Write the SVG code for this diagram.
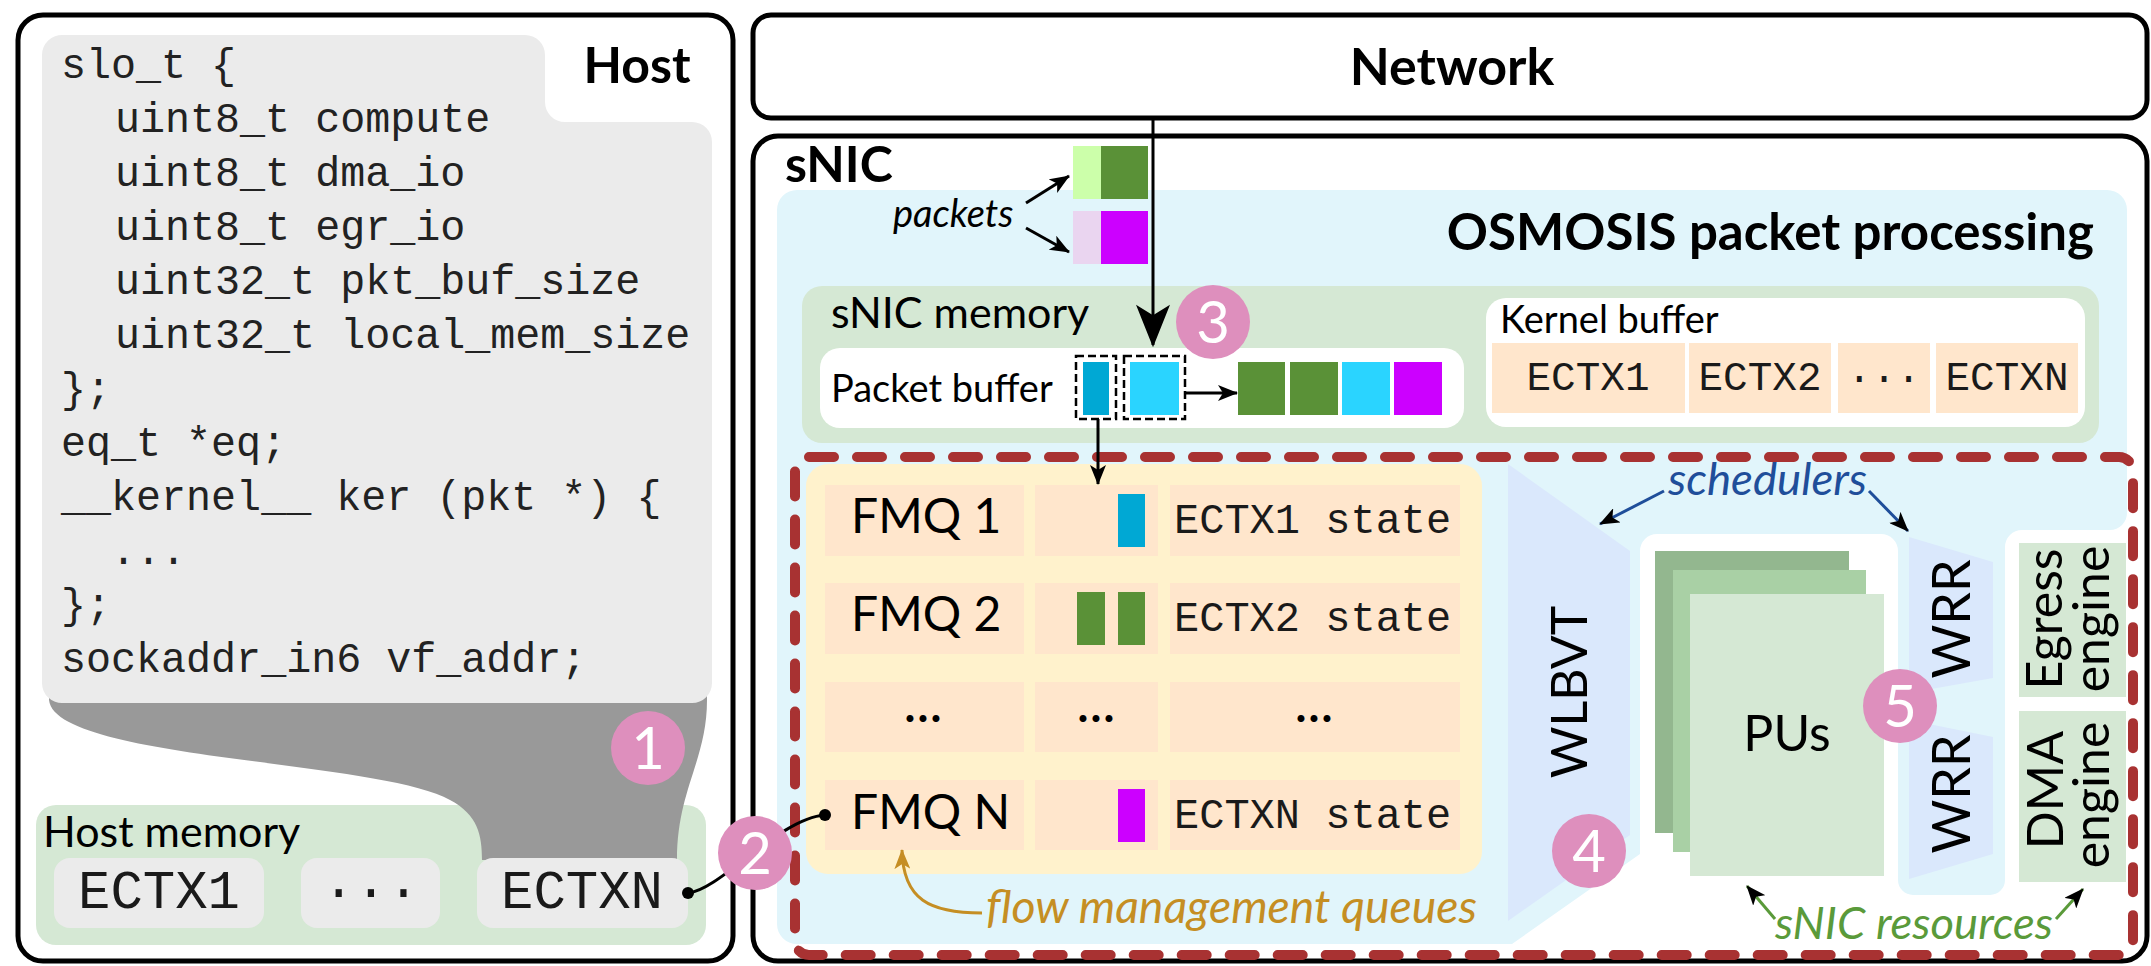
<svg xmlns="http://www.w3.org/2000/svg" width="2151" height="966" viewBox="0 0 2151 966">
<defs>
<style>
.box{fill:none;stroke:#000;stroke-width:5}
.sans{font-family:Lato,"Liberation Sans",sans-serif}
.mono{font-family:"Liberation Mono",monospace;fill:#1a1a1a}
.code{font-family:"Liberation Mono",monospace;font-size:41.7px;fill:#222}
.bold{font-weight:bold}
.num{font-family:Lato,"Liberation Sans",sans-serif;font-size:58px;fill:#fff;text-anchor:middle}
.step{fill:#de8fbd}
.cell{fill:#ffe6cc}
.green{fill:#d5e8d4}
.lav{fill:#dae8fc}
.ln{fill:none;stroke:#000;stroke-width:3}
.it{font-family:Lato,"Liberation Sans",sans-serif;font-style:italic}
</style>
<marker id="ah" viewBox="0 0 20 16" refX="19" refY="8" markerWidth="20" markerHeight="16" markerUnits="userSpaceOnUse" orient="auto"><path d="M0,0 L20,8 L0,16 L5,8 Z" fill="#000"/></marker>
<marker id="ahBig" viewBox="0 0 20 16" refX="19" refY="8" markerWidth="44" markerHeight="34" markerUnits="userSpaceOnUse" orient="auto"><path d="M0,0 L20,8 L0,16 L5,8 Z" fill="#000"/></marker>
<marker id="ahGold" viewBox="0 0 20 16" refX="19" refY="8" markerWidth="20" markerHeight="16" markerUnits="userSpaceOnUse" orient="auto"><path d="M0,0 L20,8 L0,16 L5,8 Z" fill="#c58e23"/></marker>
</defs>

<!-- HOST -->
<g id="host">
<rect class="box" x="18" y="15" width="715" height="946" rx="25"/>
</g>
<g id="host-memory">
<rect x="36" y="805" width="670" height="140" rx="20" class="green"/>
<text x="43" y="847" class="sans" font-size="43">Host memory</text>
</g>
<g id="funnel">
<path d="M49 695 L49 700 C55 760 380 760 450 800 C478 815 482 835 482 860 L677 860 C677 790 707 760 707 700 L707 695 Z" fill="#999"/>
</g>
<g id="code">
<path d="M63 35 H525 A20 20 0 0 1 545 55 V102 A20 20 0 0 0 565 122 H692 A20 20 0 0 1 712 142 V683 A20 20 0 0 1 692 703 H63 A20 20 0 0 1 42 683 V55 A20 20 0 0 1 63 35 Z" fill="#ebebeb"/>
<text x="637" y="83" class="sans bold" font-size="50" text-anchor="middle">Host</text>
<text class="code">
<tspan x="61" y="78">slo_t {</tspan>
<tspan x="115" y="132">uint8_t compute</tspan>
<tspan x="115" y="186">uint8_t dma_io</tspan>
<tspan x="115" y="240">uint8_t egr_io</tspan>
<tspan x="115" y="294">uint32_t pkt_buf_size</tspan>
<tspan x="115" y="348">uint32_t local_mem_size</tspan>
<tspan x="61" y="402">};</tspan>
<tspan x="61" y="456">eq_t *eq;</tspan>
<tspan x="61" y="510">__kernel__ ker (pkt *) {</tspan>
<tspan x="111" y="564">...</tspan>
<tspan x="61" y="618">};</tspan>
<tspan x="61" y="672">sockaddr_in6 vf_addr;</tspan>
</text>
</g>
<g id="host-ectx">
<rect x="54" y="858" width="210" height="70" rx="16" fill="#ebebeb"/>
<rect x="301" y="858" width="139" height="70" rx="16" fill="#ebebeb"/>
<rect x="477" y="858" width="211" height="70" rx="16" fill="#ebebeb"/>
<text x="159" y="908" class="mono" font-size="54" text-anchor="middle">ECTX1</text>
<text x="371" y="908" class="mono" font-size="54" text-anchor="middle">···</text>
<text x="582" y="908" class="mono" font-size="54" text-anchor="middle">ECTXN</text>
</g>

<!-- NETWORK -->
<g id="network">
<rect class="box" x="753" y="15" width="1394" height="103" rx="18"/>
<text x="1452" y="85" class="sans bold" font-size="52" text-anchor="middle">Network</text>
</g>

<!-- SNIC -->
<g id="snic">
<rect class="box" x="753" y="136" width="1394" height="825" rx="25"/>
<text x="785" y="182" class="sans bold" font-size="50">sNIC</text>
</g>
<g id="osmosis">
<path d="M797 190 H2107 A20 20 0 0 1 2127 210 V513 A17 17 0 0 1 2110 530 H2022 A17 17 0 0 0 2005 547 V880 A15 15 0 0 1 1990 895 H1913 A15 15 0 0 1 1898 880 V551 A17 17 0 0 0 1881 534 H1657 A17 17 0 0 0 1640 551 V854 L1512 944 H797 A20 20 0 0 1 777 924 V210 A20 20 0 0 1 797 190 Z" fill="#e1f5fb"/>
<text x="2094" y="250" class="sans bold" font-size="51" text-anchor="end">OSMOSIS packet processing</text>
</g>
<g id="packets">
<rect x="1073" y="146" width="28" height="53" fill="#ccffaa"/>
<rect x="1101" y="146" width="47" height="53" fill="#5a9137"/>
<rect x="1073" y="211" width="28" height="53" fill="#ead5f0"/>
<rect x="1101" y="211" width="47" height="53" fill="#cc00ff"/>
<text x="893" y="227" class="it" font-size="38">packets</text>
</g>
<g id="snic-memory">
<rect x="802" y="286" width="1297" height="157" rx="20" class="green"/>
<text x="831" y="328" class="sans" font-size="43">sNIC memory</text>
</g>
<g id="packet-buffer">
<rect x="820" y="348" width="644" height="80" rx="20" fill="#fff"/>
<text x="831" y="402" class="sans" font-size="38">Packet buffer</text>
<rect x="1076" y="356" width="40" height="63" fill="none" stroke="#000" stroke-width="2.5" stroke-dasharray="8 4"/>
<rect x="1083" y="362" width="26" height="53" fill="#00a8d4"/>
<rect x="1124" y="356" width="61" height="63" fill="none" stroke="#000" stroke-width="2.5" stroke-dasharray="8 4"/>
<rect x="1130" y="362" width="49" height="53" fill="#2ad4ff"/>
<rect x="1238" y="362" width="47" height="53" fill="#5a9137"/>
<rect x="1290" y="362" width="48" height="53" fill="#5a9137"/>
<rect x="1342" y="362" width="48" height="53" fill="#2ad4ff"/>
<rect x="1394" y="362" width="48" height="53" fill="#cc00ff"/>
</g>
<g id="kernel-buffer">
<rect x="1486" y="298" width="599" height="129" rx="20" fill="#fff"/>
<text x="1500" y="333" class="sans" font-size="38">Kernel buffer</text>
<rect x="1492" y="343" width="193" height="70" class="cell"/>
<rect x="1689" y="343" width="142" height="70" class="cell"/>
<rect x="1838" y="343" width="92" height="70" class="cell"/>
<rect x="1936" y="343" width="142" height="70" class="cell"/>
<text x="1588" y="390" class="mono" font-size="41" text-anchor="middle">ECTX1</text>
<text x="1760" y="390" class="mono" font-size="41" text-anchor="middle">ECTX2</text>
<text x="1884" y="390" class="mono" font-size="41" text-anchor="middle">···</text>
<text x="2007" y="390" class="mono" font-size="41" text-anchor="middle">ECTXN</text>
</g>

<g id="fmq">
<rect x="806" y="464" width="676" height="410" rx="22" fill="#fff2cc"/>
<rect x="825" y="485" width="199" height="71" class="cell"/>
<rect x="1035" y="485" width="123" height="71" class="cell"/>
<rect x="1170" y="485" width="290" height="71" class="cell"/>
<rect x="825" y="583" width="199" height="71" class="cell"/>
<rect x="1035" y="583" width="123" height="71" class="cell"/>
<rect x="1170" y="583" width="290" height="71" class="cell"/>
<rect x="825" y="682" width="199" height="70" class="cell"/>
<rect x="1035" y="682" width="123" height="70" class="cell"/>
<rect x="1170" y="682" width="290" height="70" class="cell"/>
<rect x="825" y="780" width="199" height="70" class="cell"/>
<rect x="1035" y="780" width="123" height="70" class="cell"/>
<rect x="1170" y="780" width="290" height="70" class="cell"/>
<text x="851" y="533" class="sans" font-size="48">FMQ 1</text>
<text x="851" y="631" class="sans" font-size="48">FMQ 2</text>
<text x="924" y="722" class="sans bold" font-size="46" text-anchor="middle" letter-spacing="2">...</text>
<text x="1097" y="722" class="sans bold" font-size="46" text-anchor="middle" letter-spacing="2">...</text>
<text x="1315" y="722" class="sans bold" font-size="46" text-anchor="middle" letter-spacing="2">...</text>
<text x="851" y="829" class="sans" font-size="48">FMQ N</text>
<rect x="1118" y="494" width="27" height="53" fill="#00a8d4"/>
<rect x="1077" y="592" width="28" height="53" fill="#5a9137"/>
<rect x="1118" y="592" width="27" height="53" fill="#5a9137"/>
<rect x="1118" y="789" width="27" height="53" fill="#cc00ff"/>
<text x="1174" y="533" class="mono" font-size="42">ECTX1 state</text>
<text x="1174" y="631" class="mono" font-size="42">ECTX2 state</text>
<text x="1174" y="828" class="mono" font-size="42">ECTXN state</text>
<text x="986" y="923" class="it" font-size="46" textLength="491" lengthAdjust="spacingAndGlyphs" fill="#c58e23">flow management queues</text>
</g>

<g id="wlbvt">
<polygon points="1508,464 1630,551 1630,835 1508,921" class="lav"/>
<text transform="translate(1587,692) rotate(-90)" class="sans" font-size="50" text-anchor="middle">WLBVT</text>
</g>
<g id="pus">
<rect x="1655" y="551" width="194" height="282" fill="#93b78f"/>
<rect x="1673" y="570" width="193" height="282" fill="#a9d0a5"/>
<rect x="1690" y="594" width="194" height="282" class="green"/>
<text x="1787" y="751" class="sans" font-size="50" text-anchor="middle">PUs</text>
</g>
<g id="wrr-upper">
<polygon points="1909,537 1993,562 1993,678 1909,693" class="lav"/>
<text transform="translate(1970,619) rotate(-90)" class="sans" font-size="52" text-anchor="middle">WRR</text>
</g>
<g id="wrr-lower">
<polygon points="1909,720 1993,737 1993,854 1909,879" class="lav"/>
<text transform="translate(1970,794) rotate(-90)" class="sans" font-size="52" text-anchor="middle">WRR</text>
</g>
<g id="egress-engine">
<rect x="2019" y="543" width="107" height="154" class="green"/>
<text transform="translate(2062,619) rotate(-90)" class="sans" font-size="50" text-anchor="middle">Egress</text>
<text transform="translate(2109,619) rotate(-90)" class="sans" font-size="50" text-anchor="middle">engine</text>
</g>
<g id="dma-engine">
<rect x="2019" y="711" width="107" height="171" class="green"/>
<text transform="translate(2063,790) rotate(-90)" class="sans" font-size="50" text-anchor="middle">DMA</text>
<text transform="translate(2109,795) rotate(-90)" class="sans" font-size="50" text-anchor="middle">engine</text>
</g>
<g id="labels">
<text x="1668" y="495" class="it" font-size="45" textLength="199" lengthAdjust="spacingAndGlyphs" fill="#1f4e9a">schedulers</text>
<text x="1775" y="939" class="it" font-size="44" textLength="278" lengthAdjust="spacingAndGlyphs" fill="#5a9a3a">sNIC resources</text>
</g>

<g id="slo-boundary">
<rect x="795" y="457" width="1338" height="498" rx="14" fill="none" stroke="#a83232" stroke-width="10" stroke-dasharray="25 23" stroke-linecap="round"/>
</g>

<g id="connectors">
<line x1="1153" y1="120" x2="1153" y2="345" class="ln" marker-end="url(#ahBig)"/>
<line x1="1026" y1="203" x2="1069" y2="176" class="ln" marker-end="url(#ah)"/>
<line x1="1026" y1="228" x2="1069" y2="252" class="ln" marker-end="url(#ah)"/>
<line x1="1185" y1="393" x2="1237" y2="393" class="ln" marker-end="url(#ah)"/>
<line x1="1098" y1="419" x2="1098" y2="484" class="ln" marker-end="url(#ah)"/>
<path d="M688 893 C720 890 780 818 825 815" class="ln"/>
<circle cx="688" cy="893" r="6"/>
<circle cx="825" cy="815" r="6"/>
<path d="M982 913 C930 913 903 900 902 850" fill="none" stroke="#c58e23" stroke-width="3" marker-end="url(#ahGold)"/>
<line x1="1664" y1="491" x2="1600" y2="524" stroke="#1f4e9a" stroke-width="3" marker-end="url(#ah)"/>
<line x1="1869" y1="491" x2="1908" y2="531" stroke="#1f4e9a" stroke-width="3" marker-end="url(#ah)"/>
<line x1="1775" y1="919" x2="1747" y2="886" stroke="#5a9a3a" stroke-width="3" marker-end="url(#ah)"/>
<line x1="2056" y1="919" x2="2083" y2="889" stroke="#5a9a3a" stroke-width="3" marker-end="url(#ah)"/>
</g>

<g id="steps">
<g id="step1"><circle cx="648" cy="748" r="37" class="step"/><text x="648" y="769" class="num">1</text></g>
<g id="step2"><circle cx="755" cy="853" r="37" class="step"/><text x="755" y="874" class="num">2</text></g>
<g id="step3"><circle cx="1213" cy="322" r="37" class="step"/><text x="1213" y="343" class="num">3</text></g>
<g id="step4"><circle cx="1589" cy="851" r="37" class="step"/><text x="1589" y="872" class="num">4</text></g>
<g id="step5"><circle cx="1900" cy="706" r="37" class="step"/><text x="1900" y="727" class="num">5</text></g>
</g>
</svg>
